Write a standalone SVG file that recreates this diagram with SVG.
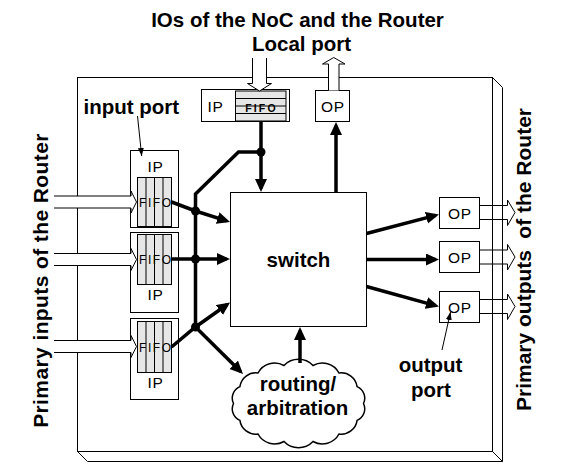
<svg xmlns="http://www.w3.org/2000/svg" width="562" height="473" viewBox="0 0 562 473">
<defs>
<style>
.ln{fill:none;stroke:#000;stroke-width:1}
.box{fill:#fff;stroke:#000;stroke-width:1}
.fifo{fill:#e6e6e6;stroke:#000;stroke-width:1}
.hol{fill:#fff;stroke:#000;stroke-width:1}
.holn{fill:none;stroke:#000;stroke-width:1}
.bus{fill:none;stroke:#000;stroke-width:3.5;stroke-linejoin:miter}
.ptr{fill:none;stroke:#000;stroke-width:1}
.b{font-family:"Liberation Sans",Arial,Helvetica,sans-serif;font-weight:bold;font-size:20.5px;fill:#000}
.side{font-family:"Liberation Sans",Arial,Helvetica,sans-serif;font-weight:bold;font-size:21px;fill:#000}
.p{font-family:"Liberation Sans",Arial,Helvetica,sans-serif;font-size:15.5px;letter-spacing:0.8px;fill:#000}
.f{font-family:"Liberation Sans",Arial,Helvetica,sans-serif;font-size:12px;letter-spacing:1.6px;fill:#000}
.fl{font-family:"Liberation Sans",Arial,Helvetica,sans-serif;font-weight:bold;font-size:10.5px;letter-spacing:2.2px;fill:#000}
.mid{text-anchor:middle}
</style>
<marker id="ah" markerUnits="userSpaceOnUse" markerWidth="14" markerHeight="13" refX="9.5" refY="6" orient="auto">
<path d="M0,0 L13,6 L0,12 Z" fill="#000"/>
</marker>
<marker id="sh" markerUnits="userSpaceOnUse" markerWidth="9" markerHeight="7" refX="8" refY="3" orient="auto">
<path d="M0,0 L8,3 L0,6 Z" fill="#000"/>
</marker>
</defs>

<g id="router-frame">
<rect x="77.5" y="77.5" width="415" height="374" class="box"/>
<path d="M492.5,77.5 L502.5,87.5 L502.5,461.5 L87.5,461.5 L77.5,451.5 M492.5,451.5 L502.5,461.5" class="ln"/>
</g>

<g id="local-ip">
<rect x="201.5" y="89.5" width="88" height="32" class="box"/>
<rect x="235.5" y="91" width="50.5" height="30" class="fifo"/>
<path d="M235.5,98.5 H286 M235.5,106 H286 M235.5,113.5 H286" class="ln"/>
<text x="215.5" y="112" class="p mid">IP</text>
<text x="261.5" y="111.5" class="fl mid">FIFO</text>
</g>

<g id="local-op">
<rect x="315.5" y="90.5" width="34" height="31" class="box"/>
<text x="333" y="111.5" class="p mid">OP</text>
</g>

<g id="ip1">
<rect x="130.5" y="150.5" width="48" height="77" class="box"/>
<rect x="137.5" y="177.5" width="34" height="49" class="fifo"/>
<path d="M146,177.5 V226.5 M154.5,177.5 V226.5 M163,177.5 V226.5" class="ln"/>
<text x="155.5" y="171.5" class="p mid">IP</text>
<text x="139" y="206.5" class="f">FIFO</text>
</g>

<g id="ip2">
<rect x="130.5" y="232.5" width="48" height="80" class="box"/>
<rect x="137.5" y="234.5" width="34" height="50" class="fifo"/>
<path d="M146,234.5 V284.5 M154.5,234.5 V284.5 M163,234.5 V284.5" class="ln"/>
<text x="155.5" y="299.5" class="p mid">IP</text>
<text x="139" y="263.5" class="f">FIFO</text>
</g>

<g id="ip3">
<rect x="130.5" y="318.5" width="48" height="81" class="box"/>
<rect x="137.5" y="321.5" width="34" height="51" class="fifo"/>
<path d="M146,321.5 V372.5 M154.5,321.5 V372.5 M163,321.5 V372.5" class="ln"/>
<text x="155.5" y="388" class="p mid">IP</text>
<text x="139" y="351.5" class="f">FIFO</text>
</g>

<g id="switch">
<rect x="230.5" y="192.5" width="136" height="134" class="box"/>
<text x="298.5" y="267" class="b mid">switch</text>
</g>

<g id="routing">
<path d="M233.5,403.5 A12.5,12.5 0 0 1 239.9,386.6 A16,16 0 0 1 258,373 A19,19 0 0 1 284,365.5 A20,20 0 0 1 313,365.5 A19,19 0 0 1 339,373 A16,16 0 0 1 357.1,386.6 A12.5,12.5 0 0 1 363.5,403.5 A12.5,12.5 0 0 1 357.1,420.4 A16,16 0 0 1 339,434 A19,19 0 0 1 313,441.5 A20,20 0 0 1 284,441.5 A19,19 0 0 1 258,434 A16,16 0 0 1 239.9,420.4 A12.5,12.5 0 0 1 233.5,403.5 Z" fill="#fff" stroke="#000" stroke-width="1.5"/>
<text x="298" y="391" class="b mid">routing/</text>
<text x="297.5" y="414.5" class="b mid">arbitration</text>
</g>

<g id="op1">
<rect x="439.5" y="197.5" width="40" height="31" class="box"/>
<text x="460" y="218.5" class="p mid">OP</text>
</g>
<g id="op2">
<rect x="439.5" y="241.5" width="40" height="31" class="box"/>
<text x="460" y="262.5" class="p mid">OP</text>
</g>
<g id="op3">
<rect x="439.5" y="291.5" width="40" height="31" class="box"/>
<text x="460" y="312.5" class="p mid">OP</text>
</g>

<g id="connectors">
<!-- hollow IO arrows -->
<path d="M54,196 H131 V191 L136.5,202 L131,213 V208 H54" class="hol"/>
<path d="M54,253.5 H131 V248.5 L136.5,259.5 L131,270.5 V265.5 H54" class="hol"/>
<path d="M54,340.5 H131 V335.5 L136.5,346.5 L131,357.5 V352.5 H54" class="hol"/>
<path d="M252.5,58 V83.5 H247.5 L259.5,91 L271.5,83.5 H266.5 V58" class="hol"/>
<path d="M328.5,90.5 V64 H322.5 L333.75,57.5 L345,64 H339 V90.5" class="hol"/>
<path d="M479.5,205.5 H507.5 V200 L515,212.5 L507.5,225.5 V219.5 H479.5" class="holn"/>
<path d="M479.5,250 H507.5 V244.5 L515,257 L507.5,270 V264 H479.5" class="holn"/>
<path d="M479.5,299.5 H507.5 V294 L515,306.5 L507.5,319.5 V313.5 H479.5" class="holn"/>
<!-- bus -->
<polyline points="261,152 238.5,152 195.5,194 195.5,327" class="bus"/>
<line x1="261" y1="121.5" x2="261" y2="188.5" class="bus" marker-end="url(#ah)"/>
<polyline points="171.5,202 195.5,211 226.7,220.9" class="bus" marker-end="url(#ah)"/>
<line x1="171.5" y1="259" x2="226.5" y2="259" class="bus" marker-end="url(#ah)"/>
<polyline points="171.5,347 195.5,327 227.2,304.5" class="bus" marker-end="url(#ah)"/>
<line x1="195.5" y1="327" x2="240.5" y2="371.5" class="bus" marker-end="url(#ah)"/>
<line x1="300" y1="363" x2="300" y2="330.5" class="bus" marker-end="url(#ah)"/>
<line x1="336" y1="192.5" x2="336" y2="125.5" class="bus" marker-end="url(#ah)"/>
<line x1="366.5" y1="233.5" x2="435.6" y2="215.4" class="bus" marker-end="url(#ah)"/>
<line x1="366.5" y1="259.5" x2="435.5" y2="259.5" class="bus" marker-end="url(#ah)"/>
<line x1="366.5" y1="286.5" x2="435.6" y2="305.6" class="bus" marker-end="url(#ah)"/>
<circle cx="261" cy="152" r="4.5" fill="#000"/>
<circle cx="195.5" cy="211" r="4.5" fill="#000"/>
<circle cx="195.5" cy="259" r="4.5" fill="#000"/>
<circle cx="195.5" cy="327" r="4.5" fill="#000"/>
<!-- label pointers -->
<line x1="137.5" y1="116" x2="141.7" y2="156" class="ptr" marker-end="url(#sh)"/>
<line x1="442" y1="350" x2="450.5" y2="312" class="ptr" marker-end="url(#sh)"/>
</g>

<g id="labels">
<text x="297.5" y="26.5" class="b mid">IOs of the NoC and the Router</text>
<text x="301.5" y="50.5" class="b mid">Local port</text>
<text x="83.5" y="113.5" class="b">input port</text>
<text x="430.5" y="371.5" class="b mid">output</text>
<text x="431" y="396.5" class="b mid">port</text>
<text transform="translate(48.3,280.5) rotate(-90)" class="side mid" style="letter-spacing:0.4px">Primary inputs of the Router</text>
<text transform="translate(530.5,259.5) rotate(-90)" class="side mid">Primary outputs <tspan dx="5.5">of the Router</tspan></text>
</g>
</svg>
